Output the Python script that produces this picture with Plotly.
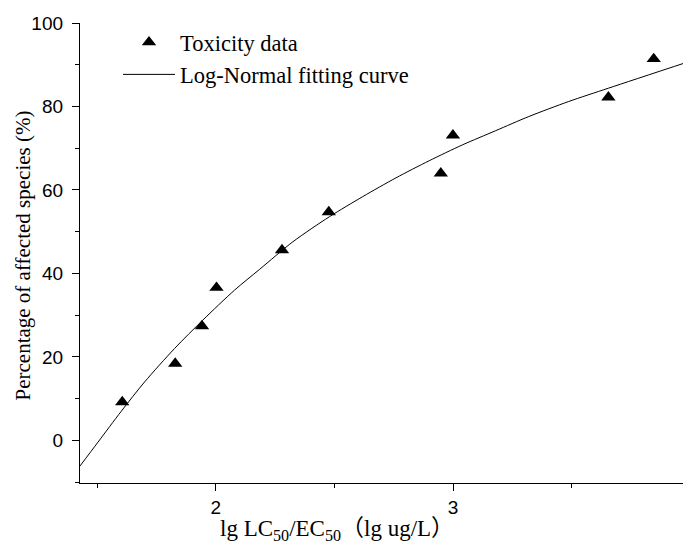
import plotly.graph_objects as go

# Toxicity data (lg LC50/EC50, percentage of affected species)
tox_x = [1.606, 1.829, 1.942, 2.003, 2.279, 2.476, 2.948, 2.999, 3.654, 3.845]
tox_y = [9.2, 18.4, 27.4, 36.6, 45.6, 54.7, 64.0, 73.1, 82.2, 91.4]

# Log-Normal fitting curve
fit_x = [1.427, 1.504, 1.602, 1.700, 1.826, 1.945, 2.079, 2.185, 2.325, 2.479,
         2.619, 2.759, 2.899, 3.039, 3.179, 3.319, 3.487, 3.655, 3.996]
fit_y = [-6.2, -0.4, 7.0, 14.0, 22.0, 28.8, 36.0, 41.0, 47.6, 53.6,
         58.4, 62.9, 67.0, 70.8, 74.2, 77.6, 81.2, 84.4, 90.8]

x_ticks = [2, 3, 4]
y_ticks = [0, 20, 40, 60, 80, 100]

SERIF = "Times New Roman, Liberation Serif, Noto Sans CJK SC, serif"
SANS = "Arial, Liberation Sans, sans-serif"

fig = go.Figure()
fig.add_trace(go.Scatter(
    x=tox_x, y=tox_y, mode="markers", name="Toxicity data",
    marker=dict(symbol="triangle-up", size=12.5, color="black"),
    cliponaxis=False,
))
fig.add_trace(go.Scatter(
    x=fit_x, y=fit_y, mode="lines", name="Log-Normal fitting curve",
    line=dict(color="black", width=1, shape="spline", smoothing=0.8),
))

axis_common = dict(
    showgrid=False, zeroline=False, showline=True, linecolor="black",
    linewidth=1.3, ticks="outside", ticklen=7, tickwidth=1.3, tickcolor="black",
    tickfont=dict(family=SANS, size=19, color="black"),
    minor=dict(ticks="outside", ticklen=4, tickwidth=1.3, tickcolor="black"),
    automargin=False,
)

fig.update_xaxes(range=[1.428, 4.002], tickvals=x_ticks, ticktext=[str(v) for v in x_ticks],
                 minor_dtick=0.5, minor_tick0=1.5, **axis_common)
fig.update_yaxes(range=[-10.2, 100], tickvals=y_ticks, ticktext=[str(v) for v in y_ticks],
                 minor_dtick=10, minor_tick0=10, ticklabelstandoff=5, **axis_common)

# page body adds an 8px offset; margins compensate so the plot area sits at
# x 80..691, y 23..483 in the browser window
fig.update_layout(
    width=691, height=546,
    margin=dict(l=72, r=8, t=15, b=71, autoexpand=False),
    plot_bgcolor="white", paper_bgcolor="white",
    showlegend=True,
    legend=dict(
        x=(118 - 80) / 611, y=(483 - 21) / 460, xanchor="left", yanchor="top",
        bgcolor="rgba(0,0,0,0)", itemwidth=52,
        font=dict(family=SERIF, size=22.5, color="black"),
        tracegroupgap=0,
    ),
    annotations=[
        dict(text="lg LC<sub>50</sub>/EC<sub>50</sub>（lg ug/L）",
             xref="paper", yref="paper", x=(337 - 80) / 611, y=-(530 - 483) / 460,
             xanchor="center", yanchor="middle", showarrow=False,
             font=dict(family=SERIF, size=23, color="black")),
        dict(text="Percentage of affected species (%)",
             xref="paper", yref="paper", x=(22 - 80) / 611, y=(483 - 255.5) / 460,
             xanchor="center", yanchor="middle", textangle=-90, showarrow=False,
             font=dict(family=SERIF, size=21, color="black")),
    ],
)

fig.write_html("out.html")
